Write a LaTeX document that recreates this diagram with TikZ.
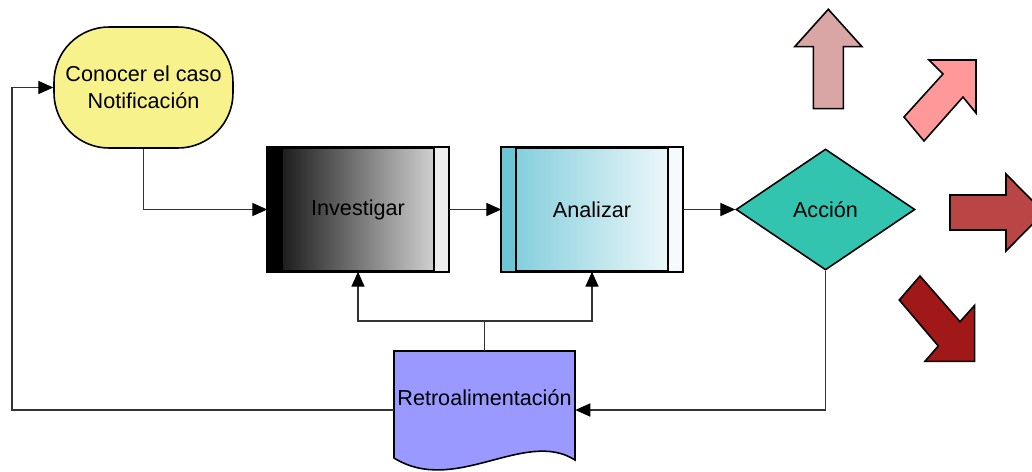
\documentclass[tikz,border=0pt]{standalone}
\usepackage{fontspec}
\setmainfont{Liberation Sans}
\usetikzlibrary{shapes.geometric,arrows.meta}
\definecolor{termY}{HTML}{F7F28C}
\definecolor{anaL}{HTML}{6CC6D6}
\definecolor{anaA}{HTML}{7CCBDA}
\definecolor{anaB}{HTML}{F5FBFC}
\definecolor{accC}{HTML}{33C4B0}
\definecolor{retC}{HTML}{9999FF}
\definecolor{arUp}{HTML}{D9A5A5}
\definecolor{arNE}{HTML}{FF9999}
\definecolor{arR}{HTML}{B94545}
\definecolor{arSE}{HTML}{A01818}
\tikzset{
  lbl/.style={font=\fontsize{12.3}{15.3}\selectfont, align=center, text=black},
  shapeline/.style={draw=black, line width=0.9pt},
  conn/.style={draw=black!80, line width=0.65pt},
  arr/.style={conn, -{Triangle[length=8.5pt,width=7.5pt,color=black,fill=black]}},
  bigarrow/.style={draw=black, line width=0.9pt, line join=miter},
}
\begin{document}
\begin{tikzpicture}[x=0.02cm,y=-0.02cm]
\useasboundingbox (0,0) rectangle (1032,471);
\clip (0,0) rectangle (1032,471);
% Terminal
\node[shapeline, fill=termY, rounded corners=1.1cm, minimum width=3.58cm, minimum height=2.42cm, inner sep=0pt, lbl] (conocer) at (143.5,87.5) {Conocer el caso\\Notificación};
% Investigar
\node[shapeline, left color=black!95, right color=black!12, minimum width=3.6cm, minimum height=2.46cm, inner sep=0pt, lbl] (inv) at (358,209.5) {Investigar};
\fill[black] (inv.north west) rectangle ([xshift=0.3cm]inv.south west);
\fill[black!7] ([xshift=-0.3cm]inv.north east) rectangle (inv.south east);
\draw[shapeline] ([xshift=0.3cm]inv.north west) -- ([xshift=0.3cm]inv.south west);
\draw[shapeline] ([xshift=-0.3cm]inv.north east) -- ([xshift=-0.3cm]inv.south east);
\draw[shapeline] (inv.north west) rectangle (inv.south east);
% Analizar
\node[shapeline, left color=anaA, right color=anaB, minimum width=3.6cm, minimum height=2.46cm, inner sep=0pt, lbl] (ana) at (592,209.5) {Analizar};
\fill[anaL] (ana.north west) rectangle ([xshift=0.3cm]ana.south west);
\fill[anaB] ([xshift=-0.3cm]ana.north east) rectangle (ana.south east);
\draw[shapeline] ([xshift=0.3cm]ana.north west) -- ([xshift=0.3cm]ana.south west);
\draw[shapeline] ([xshift=-0.3cm]ana.north east) -- ([xshift=-0.3cm]ana.south east);
\draw[shapeline] (ana.north west) rectangle (ana.south east);
% Accion
\node[shapeline, diamond, fill=accC, minimum width=3.58cm, minimum height=2.42cm, inner sep=0pt, lbl] (acc) at (825.5,209.5) {Acción};
% Retroalimentacion (document shape)
\node[minimum width=3.62cm, minimum height=2.36cm, inner sep=0pt] (retro) at (484.5,410) {};
\draw[shapeline, fill=retC] (394,351) -- (575,351) -- (575,460)
  .. controls (525,428) and (455,496) .. (394,458) -- cycle;
\node[lbl] (retrotxt) at (484.5,398) {Retroalimentación};
% Connectors
\draw[arr] (conocer.south) |- (inv.west);
\draw[arr] (inv.east) -- (ana.west);
\draw[arr] (ana.east) -- (acc.west);
\draw[arr] (acc.south) |- (retro.east);
\coordinate (lc) at (12,410);
\draw[arr] (retro.west) -- (lc) |- (conocer.west);
\coordinate (jn) at (484.5,321);
\draw[conn] (retro.north) -- (jn);
\draw[arr] (jn) -| (inv.south);
\draw[arr] (jn) -| (ana.south);
% Big arrows
\filldraw[bigarrow, fill=arUp] (828.3,9.3) -- (862,46.7) -- (843.3,46.7) -- (843.3,108.7) -- (813.3,108.7) -- (813.3,46.7) -- (794.7,46.7) -- cycle;
\filldraw[bigarrow, fill=arNE] (929,60) -- (976,60) -- (976,113) -- (963,97) -- (924,141) -- (904,117) -- (943,74) -- cycle;
\filldraw[bigarrow, fill=arR] (950,195) -- (1006,195) -- (1006,174) -- (1044,212.5) -- (1006,251) -- (1006,230) -- (950,230) -- cycle;
\filldraw[bigarrow, fill=arSE] (920,276) -- (960,321.7) -- (974.7,305.3) -- (974.7,361.3) -- (925,361.3) -- (938.3,346) -- (899.3,300) -- cycle;
\end{tikzpicture}
\end{document}
